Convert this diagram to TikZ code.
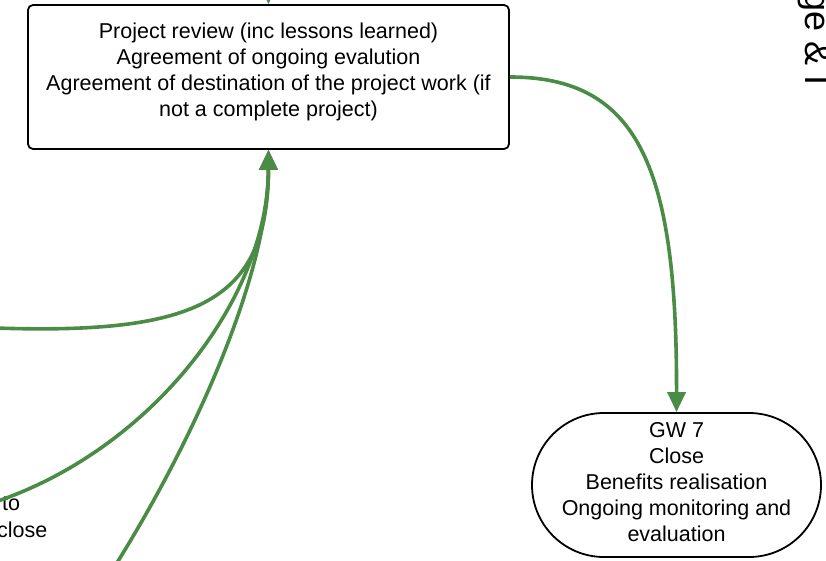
\documentclass[tikz,border=0pt]{standalone}
\usepackage{fontspec}
\setmainfont{Liberation Sans}
\usetikzlibrary{arrows.meta}
\definecolor{gr}{RGB}{74,140,70}
\begin{document}
\begin{tikzpicture}[x=1pt,y=-1pt,
  boxshape/.style={draw=black, line width=1.8pt, inner sep=0},
  txt/.style={align=center, inner sep=0, font=\fontsize{21.5}{26}\selectfont},
  conn/.style={draw=gr, line width=3.6pt, -{Triangle[length=20pt,width=18pt]}}]
\useasboundingbox (0,0) rectangle (826,561);
\clip (0,0) rectangle (826,561);
% top box
\node[boxshape, rounded corners=5pt, minimum width=481pt, minimum height=144pt] (pr) at (268.5,77) {};
\node[txt] (prt) at (268.5,72) {Project review (inc lessons learned)\\Agreement of ongoing evalution\\Agreement of destination of the project work (if\\not a complete project)};
% GW7
\node[boxshape, rounded corners=72pt, minimum width=289pt, minimum height=144pt] (gw) at (676.5,485) {};
\node[txt] (gwt) at (676.5,482) {GW 7\\Close\\Benefits realisation\\Ongoing monitoring and\\evaluation};
% left labels
\node[anchor=west, inner sep=0, font=\fontsize{21.5}{26}\selectfont] (lt1) at (2,504) {to};
\node[anchor=west, inner sep=0, font=\fontsize{21.5}{26}\selectfont] (lt2) at (-3,530) {close};
% side text
\node[rotate=-90, anchor=base west, inner sep=0, font=\fontsize{36}{42}\selectfont] (side) at (805,-9) {ge \& I};
% connectors
\coordinate (topin) at (268,-40);
\coordinate (l1) at (-5,328);
\coordinate (l2) at (-5,502);
\coordinate (l3) at (115,566);
\draw[conn] (topin) -- (pr.north);
\draw[conn] (l1) .. controls (200,335) and (268,300) .. (pr.south);
\draw[conn] (l2) .. controls (150,450) and (268,300) .. (pr.south);
\draw[conn] (l3) .. controls (200,430) and (268,270) .. (pr.south);
\draw[conn] (pr.east) .. controls (640,77) and (677,170) .. (gw.north);
\end{tikzpicture}
\end{document}
